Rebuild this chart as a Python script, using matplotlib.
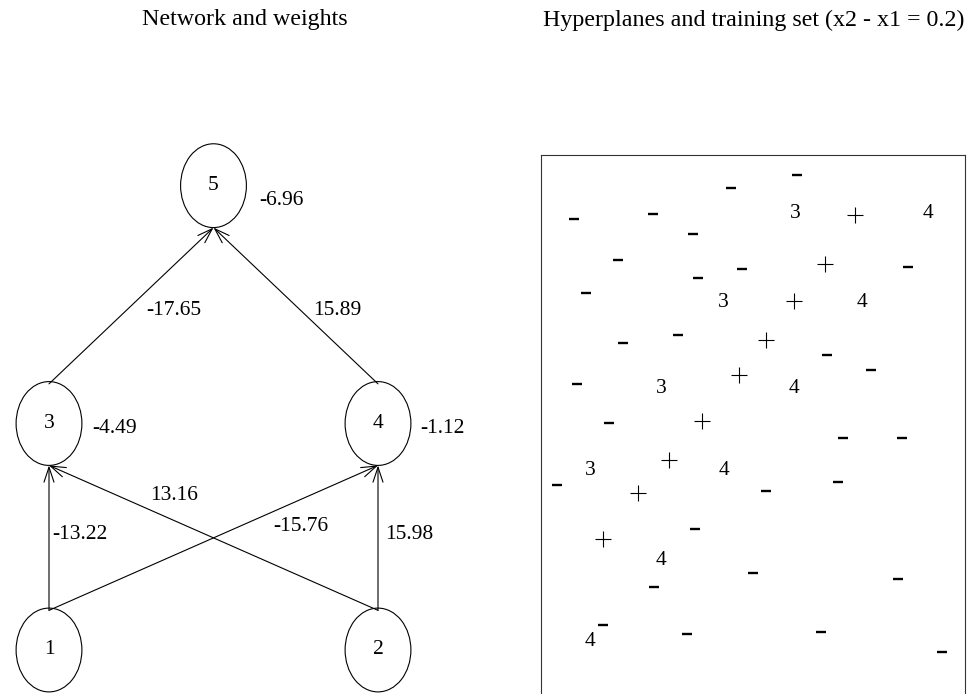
import numpy as np
import matplotlib
matplotlib.use("Agg")
import matplotlib.pyplot as plt
from matplotlib.patches import Ellipse

plt.rcParams["font.family"] = ["Liberation Serif", "DejaVu Serif"]

# --- network: nodes, biases, weights ---
node_ids = [1, 2, 3, 4, 5]
node_x = [0.0, 1.0, 0.0, 1.0, 0.5]
node_y = [0.0, 0.0, 1.0, 1.0, 2.05]
bias_nodes = [3, 4, 5]
bias_vals = ["-4.49", "-1.12", "-6.96"]
bias_lx = [0.20, 1.195, 0.705]
bias_ly = [0.98, 0.98, 1.985]

edge_src = [1, 2, 1, 2, 3, 4]
edge_dst = [3, 3, 4, 4, 5, 5]
edge_w = ["-13.22", "13.16", "-15.76", "15.98", "-17.65", "15.89"]
edge_lx = [0.094, 0.380, 0.766, 1.094, 0.380, 0.875]
edge_ly = [0.508, 0.684, 0.547, 0.508, 1.501, 1.501]

# --- training set (x1, x2 in [0, 1]) ---
neg_x1 = [0.604, 0.448, 0.078, 0.264, 0.358, 0.182, 0.866, 0.474, 0.370, 0.106,
          0.193, 0.323, 0.675, 0.778, 0.085, 0.160, 0.712, 0.851, 0.038, 0.700,
          0.531, 0.363, 0.500, 0.842, 0.267, 0.146, 0.344, 0.660, 0.946]
neg_x2 = [0.964, 0.941, 0.885, 0.894, 0.858, 0.811, 0.798, 0.795, 0.778, 0.751,
          0.661, 0.676, 0.640, 0.613, 0.587, 0.517, 0.490, 0.490, 0.405, 0.411,
          0.395, 0.326, 0.247, 0.236, 0.222, 0.153, 0.137, 0.141, 0.105]
pos_x1 = [0.741, 0.670, 0.597, 0.531, 0.467, 0.380, 0.302, 0.229, 0.146]
pos_x2 = [0.892, 0.804, 0.737, 0.667, 0.604, 0.521, 0.450, 0.391, 0.308]

# hyperplanes of hidden units 3 and 4
hp3_x1 = [0.599, 0.429, 0.283, 0.116]
hp3_x2 = [0.895, 0.735, 0.580, 0.431]
hp4_x1 = [0.913, 0.757, 0.597, 0.432, 0.283, 0.116]
hp4_x2 = [0.895, 0.735, 0.580, 0.431, 0.270, 0.123]

W, H, DPI = 972, 694, 100
fig = plt.figure(figsize=(W / DPI, H / DPI), dpi=DPI)

# left: network diagram
axl = fig.add_axes([0, 0, 486 / W, 1])
axl.set_xlim(-49 / 329, (486 - 49) / 329)
axl.set_ylim(-44 / 226.5, 650 / 226.5)
axl.axis("off")

ew, eh = 0.2, 0.37
pos = {n: (x, y) for n, x, y in zip(node_ids, node_x, node_y)}
for n in node_ids:
    x, y = pos[n]
    axl.add_patch(Ellipse((x, y), ew, eh, fill=False, lw=0.8, ec="black"))
    axl.text(x, y, str(n), ha="center", va="center", fontsize=15.5)

for s, d in zip(edge_src, edge_dst):
    xs, ys = pos[s]
    xd, yd = pos[d]
    axl.annotate("", xy=(xd, yd - eh / 2), xytext=(xs, ys + eh / 2 - 0.01),
                 arrowprops=dict(arrowstyle="->,head_length=1.08,head_width=0.36",
                                 mutation_scale=10, lw=0.8, color="black",
                                 shrinkA=0, shrinkB=0))

for w, x, y in zip(edge_w, edge_lx, edge_ly):
    axl.text(x, y, w, ha="center", va="center", fontsize=15.5)
for b, x, y in zip(bias_vals, bias_lx, bias_ly):
    axl.text(x, y, b, ha="center", va="center", fontsize=15.5)

# right: hyperplanes and training set
axr = fig.add_axes([541 / W, 1 - 710 / H, 424 / W, 555 / H])
axr.set_xlim(0, 1)
axr.set_ylim(0, 1)
axr.set_xticks([])
axr.set_yticks([])
for sp in axr.spines.values():
    sp.set_linewidth(0.8)
    sp.set_color("#333333")

axr.plot(neg_x1, neg_x2, ls="none", marker="_", ms=6.5, mew=1.7, color="black")
axr.plot(pos_x1, pos_x2, ls="none", marker="+", ms=12.2, mew=0.8, color="black")
for x, y in zip(hp3_x1, hp3_x2):
    axr.text(x, y, "3", ha="center", va="center", fontsize=15.5)
for x, y in zip(hp4_x1, hp4_x2):
    axr.text(x, y, "4", ha="center", va="center", fontsize=15.5)

fig.text(245 / W, 1 - 20 / H, "Network and weights", ha="center", va="center",
         fontsize=17.3)
fig.text(754 / W, 1 - 20 / H, "Hyperplanes and training set (x2 - x1 = 0.2)",
         ha="center", va="center", fontsize=17.3)

fig.savefig("out.png", dpi=DPI)
